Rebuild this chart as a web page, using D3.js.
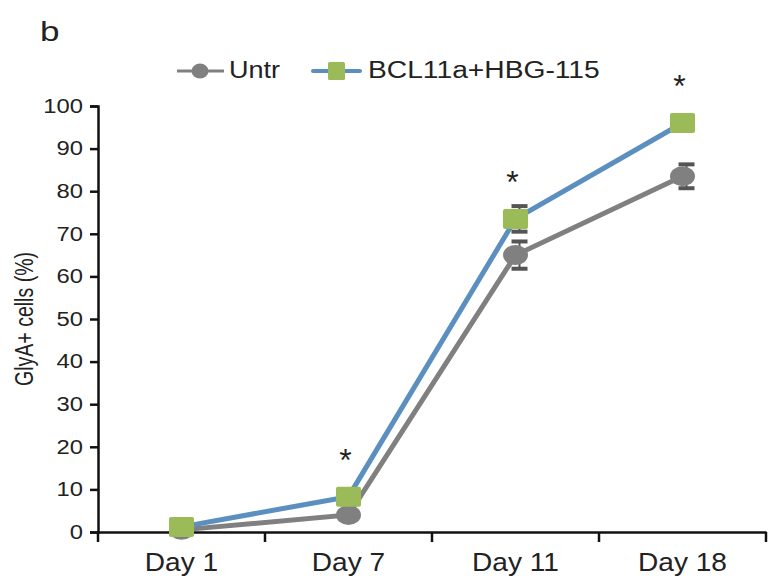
<!DOCTYPE html>
<html>
<head>
<meta charset="utf-8">
<script src="https://cdn.jsdelivr.net/npm/d3@7"></script>
<style>
  body { margin: 0; background: #fff; }
  svg { font-family: "Liberation Sans", Arial, sans-serif; }
</style>
</head>
<body>
<div id="chart"></div>
<script>
var days = ["Day 1", "Day 7", "Day 11", "Day 18"];
var untr = [0.5, 4, 65, 83.5];
var untrErr = [0, 0, 3.2, 2.8];
var bcl = [1.2, 8.3, 73.5, 96];
var bclErr = [0, 0, 3, 1.5];
var stars = [false, true, true, true];
var yTicks = [0, 10, 20, 30, 40, 50, 60, 70, 80, 90, 100];

var width = 770, height = 583;
var svg = d3.select("#chart").append("svg")
  .attr("width", width)
  .attr("height", height);

// the original figure is a bit wider than normal type, stretch texts
function stretch(sel, f) {
  sel.each(function() {
    var w = this.getComputedTextLength();
    d3.select(this).attr("textLength", w * f).attr("lengthAdjust", "spacingAndGlyphs");
  });
}

var x = d3.scaleBand().domain(days).range([98, 766]);
var y = d3.scaleLinear().domain([0, 100]).range([532, 106]);

// panel letter
svg.append("text").attr("x", 40).attr("y", 41)
  .attr("font-size", 27).attr("fill", "#222").text("b")
  .call(stretch, 1.3);

// axes
var yAxis = svg.append("g").attr("transform", "translate(98,0)")
  .call(d3.axisLeft(y).tickValues(yTicks).tickSize(8).tickPadding(7));
var xAxis = svg.append("g").attr("transform", "translate(0,532)")
  .call(d3.axisBottom(x).tickSize(0).tickPadding(21));

// x ticks at band edges
var edges = days.map(function(d) { return x(d); }).concat([x.range()[1]]);
xAxis.selectAll(".edge").data(edges).enter().append("line")
  .attr("x1", function(d) { return d; })
  .attr("x2", function(d) { return d; })
  .attr("y1", 0).attr("y2", 10)
  .attr("stroke", "#111").attr("stroke-width", 2.5);

[yAxis, xAxis].forEach(function(a) {
  a.select(".domain").attr("stroke", "#111").attr("stroke-width", 2.5);
  a.selectAll(".tick line").attr("stroke", "#111").attr("stroke-width", 2.5);
  a.selectAll("text").attr("fill", "#222")
    .attr("font-family", "Liberation Sans, Arial, sans-serif");
});
yAxis.selectAll("text").attr("font-size", 19.5).call(stretch, 1.22);
xAxis.selectAll("text").attr("font-size", 26).call(stretch, 1.08);

// y axis label
svg.append("text")
  .attr("transform", "translate(33,319) rotate(-90) scale(1,1.3)")
  .attr("text-anchor", "middle")
  .attr("font-size", 19.5).attr("fill", "#222")
  .attr("textLength", 134).attr("lengthAdjust", "spacingAndGlyphs")
  .text("GlyA+ cells (%)");

var cx = function(d, i) { return x(days[i]) + x.bandwidth() / 2; };

var line = d3.line()
  .x(function(d, i) { return cx(d, i); })
  .y(function(d) { return y(d); });

// error bars
function errBars(vals, errs) {
  vals.forEach(function(v, i) {
    if (!errs[i]) return;
    var px = cx(v, i) + 4;
    var g = svg.append("g").attr("stroke", "#555");
    g.append("line").attr("x1", px).attr("x2", px)
      .attr("y1", y(v + errs[i])).attr("y2", y(v - errs[i])).attr("stroke-width", 2);
    [v + errs[i], v - errs[i]].forEach(function(e) {
      g.append("line").attr("x1", px - 8).attr("x2", px + 8)
        .attr("y1", y(e)).attr("y2", y(e)).attr("stroke-width", 4);
    });
  });
}
errBars(untr, untrErr);
errBars(bcl, bclErr);

svg.append("path").datum(untr).attr("d", line)
  .attr("fill", "none").attr("stroke", "#808080").attr("stroke-width", 5);
svg.append("path").datum(bcl).attr("d", line)
  .attr("fill", "none").attr("stroke", "#5b8fbf").attr("stroke-width", 5);

svg.selectAll(".dotU").data(untr).enter().append("ellipse")
  .attr("cx", cx).attr("cy", function(d) { return y(d); })
  .attr("rx", 12.5).attr("ry", 10).attr("fill", "#808080");

svg.selectAll(".sqB").data(bcl).enter().append("rect")
  .attr("x", function(d, i) { return cx(d, i) - 12.5; })
  .attr("y", function(d) { return y(d) - 10; })
  .attr("width", 25).attr("height", 20).attr("rx", 2)
  .attr("fill", "#9bbb59");

// significance stars
var starIdx = d3.range(days.length).filter(function(i) { return stars[i]; });
svg.selectAll(".star").data(starIdx).enter().append("text")
  .attr("x", function(i) { return cx(bcl[i], i) - 3; })
  .attr("y", function(i) { return y(bcl[i]) - 42 + 16; })
  .attr("text-anchor", "middle")
  .attr("font-size", 32).attr("fill", "#222")
  .text("*");

// legend
var leg = svg.append("g");
leg.append("line").attr("x1", 177).attr("x2", 224).attr("y1", 71).attr("y2", 71)
  .attr("stroke", "#808080").attr("stroke-width", 3);
leg.append("ellipse").attr("cx", 200).attr("cy", 71).attr("rx", 8.5).attr("ry", 7.5).attr("fill", "#808080");
leg.append("text").attr("x", 229).attr("y", 78).attr("font-size", 23.5).attr("fill", "#222")
  .text("Untr").call(stretch, 1.15);
leg.append("line").attr("x1", 313).attr("x2", 360).attr("y1", 71).attr("y2", 71)
  .attr("stroke", "#5b8fbf").attr("stroke-width", 4).attr("stroke-linecap", "round");
leg.append("rect").attr("x", 328).attr("y", 62).attr("width", 17).attr("height", 18)
  .attr("rx", 1.5).attr("fill", "#9bbb59");
leg.append("text").attr("x", 368).attr("y", 78).attr("font-size", 23.5).attr("fill", "#222")
  .text("BCL11a+HBG-115").call(stretch, 1.2);
</script>
</body>
</html>
